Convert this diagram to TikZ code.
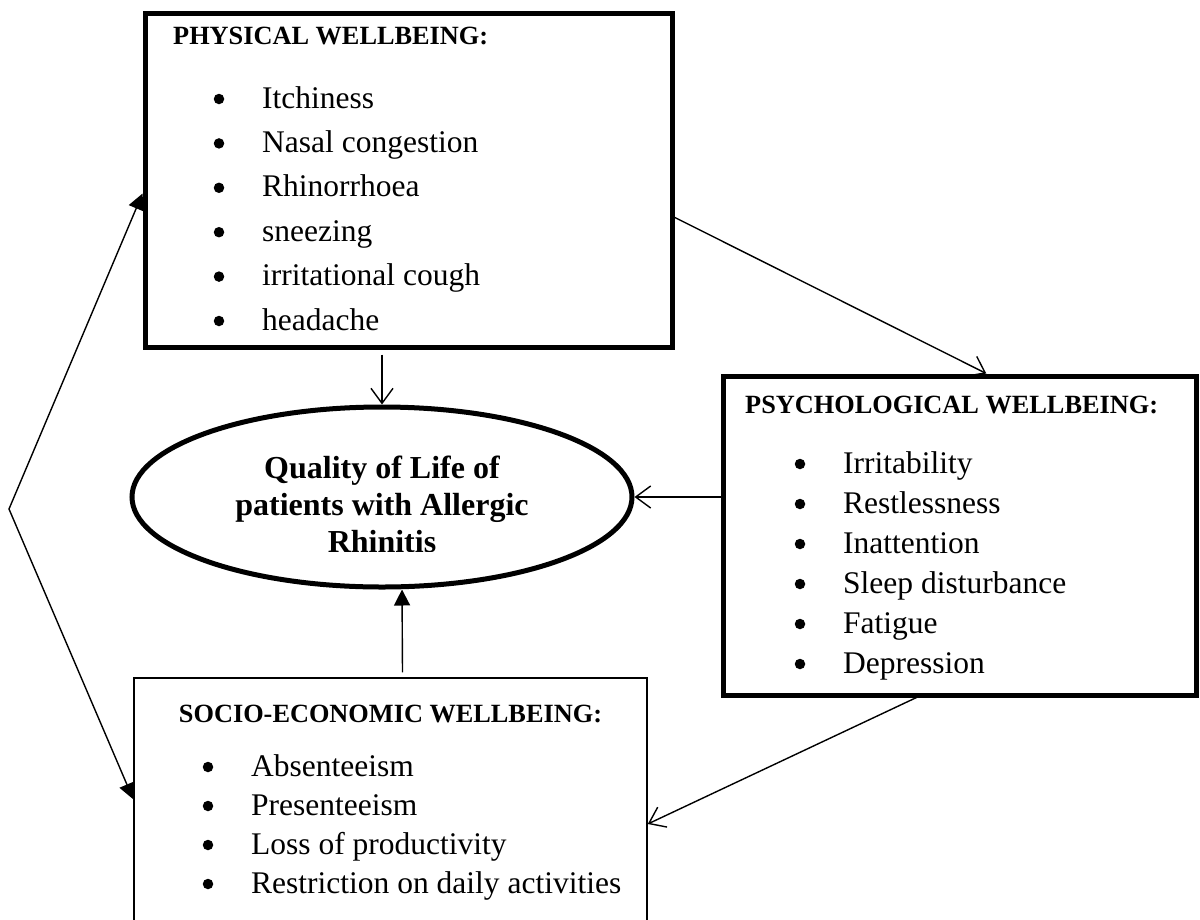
\documentclass[tikz,border=0pt]{standalone}
\usepackage{fontspec}
\setmainfont{Liberation Serif}
\usetikzlibrary{calc,shapes.geometric,arrows.meta}

\tikzset{
    thickbox/.style={draw, line width=5pt, inner sep=0pt},
    thinbox/.style={draw, line width=1.5pt, inner sep=0pt},
    head/.style={anchor=base west, inner sep=0pt, font=\bfseries\fontsize{26.3}{30}\selectfont},
    item/.style={anchor=base west, inner sep=0pt, font=\fontsize{31.5}{36}\selectfont},
    dot/.style={circle, fill, inner sep=0pt, minimum size=10.5pt},
    openarr/.style={line width=1.4pt, -{Straight Barb[length=15pt,width=22pt]}},
    fillarr/.style={line width=1.4pt, -{Triangle[length=16pt,width=16pt]}},
}

\begin{document}
\begin{tikzpicture}[x=1pt, y=-1pt]
    \clip (0,0) rectangle (1200,919);

    \node[thickbox, minimum width=527, minimum height=334] (phys) at (408.5,180) {};
    \node[thickbox, minimum width=473, minimum height=319] (psych) at (959.5,535.5) {};
    \node[thinbox, minimum width=513, minimum height=282] (socio) at (390.5,819) {};
    \node[thickbox, ellipse, minimum width=500, minimum height=180] (qol) at (382,497) {};

    % text of the ellipse, its last line cut at the bottom
    \begin{scope}
        \clip (0,0) rectangle (1200,551);
        \node[align=center, inner sep=0pt, font=\bfseries\fontsize{32}{37}\selectfont] (qoltext)
            at ($(qol.center)+(0,7.5)$) {Quality of Life of\\patients with Allergic\\Rhinitis};
    \end{scope}

    % box headings
    \node[head] (physhead) at (173,44) {PHYSICAL WELLBEING:};
    \node[head] (psychhead) at (745,413) {PSYCHOLOGICAL WELLBEING:};
    \node[head, anchor=base] (sociohead) at (390.5,722) {SOCIO-ECONOMIC WELLBEING:};

    % bullet lists
    \foreach \txt [count=\i] in {Itchiness, Nasal congestion, Rhinorrhoea, sneezing, irritational cough, headache} {
        \node[item] (phys-\i) at (262,{108+44.4*(\i-1)}) {\txt};
        \node[dot] at ($(phys-\i.base west)+(-43,-9)$) {};
    }
    \foreach \txt [count=\i] in {Irritability, Restlessness, Inattention, Sleep disturbance, Fatigue, Depression} {
        \node[item] (psych-\i) at (843,{473+40*(\i-1)}) {\txt};
        \node[dot] at ($(psych-\i.base west)+(-43,-9)$) {};
    }
    \foreach \txt [count=\i] in {Absenteeism, Presenteeism, Loss of productivity, Restriction on daily activities} {
        \node[item] (socio-\i) at (251,{776+39*(\i-1)}) {\txt};
        \node[dot] at ($(socio-\i.base west)+(-43,-9)$) {};
    }

    % connectors
    \draw[openarr] ($(qol.north |- phys.south)+(0,5)$) -- (qol.north);
    \draw[openarr] ($(phys.north east)!0.61!(phys.south east)$) -- ($(psych.north west)!0.556!(psych.north east)$);
    \draw[openarr] (psych.west |- qol.east) -- (qol.east);
    \draw[fillarr] ($(socio.north)+(12,-5)$) -- ($(qol.south)+(20,0)$);
    \draw[openarr] ($(psych.south west)!0.41!(psych.south east)$) -- ($(socio.east)+(0,5)$);

    \coordinate (bend) at (9,509);
    \draw[fillarr, {Triangle[length=16pt,width=16pt]}-{Triangle[length=16pt,width=16pt]}]
        ($(phys.north west)!0.54!(phys.south west)$) -- (bend) -- ($(socio.north west)+(0,122)$);
\end{tikzpicture}
\end{document}
